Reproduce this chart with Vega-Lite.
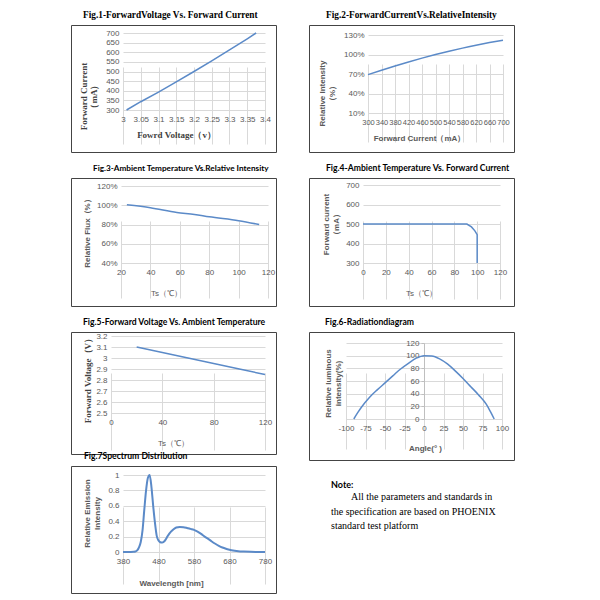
{
  "$schema": "https://vega.github.io/schema/vega-lite/v6.json",
  "padding": {"left": 70, "top": 10, "right": 5, "bottom": 5},
  "background": "white",
  "spacing": 31,
  "config": {
    "font": "Liberation Sans",
    "view": {"stroke": "#444444", "strokeWidth": 1},
    "axis": {"domain": false, "ticks": false, "grid": true, "gridColor": "#d9d9d9", "gridWidth": 1, "labelColor": "#595959", "labelFont": "Liberation Sans", "labelFontSize": 8, "labelPadding": 3, "labelFlush": false, "labelOverlap": false, "titleColor": "#595959", "titleFont": "Liberation Sans", "titleFontSize": 8, "titleFontWeight": "bold", "titleAlign": "center"},
    "axisX": {"labelPadding": 5},
    "axisY": {"labelPadding": 4},
    "line": {"color": "#5B8AC8", "strokeWidth": 1.5},
    "title": {"anchor": "start", "frame": "group", "color": "#000000", "fontWeight": "bold", "fontSize": 8.6, "font": "Lato", "offset": 5}
  },
  "datasets": {
    "fig1": [{"v": 3.01, "i": 300}, {"v": 3.05, "i": 343}, {"v": 3.1, "i": 393}, {"v": 3.15, "i": 446}, {"v": 3.2, "i": 500}, {"v": 3.25, "i": 555}, {"v": 3.3, "i": 612}, {"v": 3.35, "i": 670}, {"v": 3.375, "i": 700}],
    "fig2": [{"i": 300, "r": 69}, {"i": 340, "r": 75.9}, {"i": 380, "r": 82.4}, {"i": 420, "r": 88.6}, {"i": 460, "r": 94.4}, {"i": 500, "r": 99.9}, {"i": 540, "r": 105}, {"i": 580, "r": 109.8}, {"i": 620, "r": 114.2}, {"i": 660, "r": 118.3}, {"i": 700, "r": 122}],
    "fig3": [{"t": 24, "r": 100.5}, {"t": 40, "r": 97.5}, {"t": 58, "r": 92.5}, {"t": 70, "r": 90.5}, {"t": 80, "r": 88}, {"t": 100, "r": 84}, {"t": 114, "r": 80}],
    "fig4": [{"t": 0, "i": 500}, {"t": 91, "i": 500}, {"t": 95, "i": 485}, {"t": 98, "i": 465}, {"t": 100, "i": 445}, {"t": 100, "i": 300}],
    "fig5": [{"t": 20, "v": 3.1}, {"t": 40, "v": 3.05}, {"t": 60, "v": 3.0}, {"t": 80, "v": 2.95}, {"t": 100, "v": 2.9}, {"t": 120, "v": 2.85}],
    "fig6": [{"a": -90, "r": 0}, {"a": -85, "r": 10}, {"a": -80, "r": 19}, {"a": -70, "r": 34}, {"a": -60, "r": 46}, {"a": -50, "r": 57}, {"a": -40, "r": 68}, {"a": -30, "r": 79}, {"a": -20, "r": 88}, {"a": -10, "r": 96}, {"a": 0, "r": 100}, {"a": 10, "r": 99.5}, {"a": 20, "r": 95}, {"a": 30, "r": 87}, {"a": 40, "r": 76}, {"a": 50, "r": 64}, {"a": 60, "r": 51}, {"a": 70, "r": 38}, {"a": 80, "r": 23}, {"a": 85, "r": 12}, {"a": 90, "r": 0}],
    "fig7": [{"w": 380, "e": 0}, {"w": 390, "e": 0}, {"w": 400, "e": 0.001}, {"w": 410, "e": 0.003}, {"w": 415, "e": 0.006}, {"w": 420, "e": 0.02}, {"w": 425, "e": 0.06}, {"w": 430, "e": 0.13}, {"w": 435, "e": 0.28}, {"w": 440, "e": 0.55}, {"w": 445, "e": 0.8}, {"w": 450, "e": 0.96}, {"w": 455, "e": 1.0}, {"w": 460, "e": 0.85}, {"w": 465, "e": 0.6}, {"w": 470, "e": 0.38}, {"w": 475, "e": 0.21}, {"w": 480, "e": 0.15}, {"w": 485, "e": 0.127}, {"w": 490, "e": 0.122}, {"w": 495, "e": 0.132}, {"w": 500, "e": 0.16}, {"w": 505, "e": 0.2}, {"w": 510, "e": 0.235}, {"w": 520, "e": 0.285}, {"w": 530, "e": 0.318}, {"w": 540, "e": 0.326}, {"w": 550, "e": 0.322}, {"w": 560, "e": 0.312}, {"w": 570, "e": 0.3}, {"w": 580, "e": 0.288}, {"w": 590, "e": 0.265}, {"w": 600, "e": 0.235}, {"w": 610, "e": 0.2}, {"w": 620, "e": 0.17}, {"w": 630, "e": 0.137}, {"w": 640, "e": 0.107}, {"w": 650, "e": 0.08}, {"w": 660, "e": 0.058}, {"w": 670, "e": 0.042}, {"w": 680, "e": 0.03}, {"w": 690, "e": 0.02}, {"w": 700, "e": 0.013}, {"w": 710, "e": 0.008}, {"w": 720, "e": 0.005}, {"w": 740, "e": 0.002}, {"w": 760, "e": 0.001}, {"w": 780, "e": 0}]
  },
  "hconcat": [
    {
      "bounds": "flush",
      "spacing": 12,
      "vconcat": [
        {
          "width": 205, "height": 127,
          "title": {"text": "Fig.1-ForwardVoltage Vs. Forward Current", "font": "Liberation Serif", "fontSize": 9.3, "dx": 12},
          "data": {"name": "fig1"},
          "mark": {"type": "line"},
          "encoding": {
            "x": {"field": "v", "type": "quantitative", "scale": {"domain": [3, 3.4], "range": [52, 194], "nice": false, "zero": false},
              "axis": {"values": [3, 3.05, 3.1, 3.15, 3.2, 3.25, 3.3, 3.35, 3.4], "format": "~g", "offset": -42, "title": "Fowrd Voltage（v）", "titleFont": "Liberation Serif", "titleFontSize": 9, "titleColor": "#404040", "titleX": 105, "titleY": 24, "titleBaseline": "middle"}},
            "y": {"field": "i", "type": "quantitative", "scale": {"domain": [300, 700], "range": [85, 8], "nice": false, "zero": false},
              "axis": {"values": [300, 350, 400, 450, 500, 550, 600, 650, 700], "offset": -52, "title": ["Forward Current", "（mA）"], "titleFont": "Liberation Serif", "titleFontSize": 9, "titleColor": "#404040", "titleX": -44, "titleY": 71, "titleBaseline": "top", "titleAngle": -90, "titleLineHeight": 10}}
          }
        },
        {"width": 205, "height": 2, "data": {"values": []}, "mark": "point", "view": {"stroke": null}},
        {
          "width": 205, "height": 128,
          "title": {"text": "Fig.3-Ambient Temperature Vs.Relative Intensity", "fontSize": 8.2, "dx": 22},
          "data": {"name": "fig3"},
          "mark": {"type": "line", "interpolate": "monotone"},
          "encoding": {
            "x": {"field": "t", "type": "quantitative", "scale": {"domain": [20, 120], "range": [50, 197], "nice": false, "zero": false},
              "axis": {"values": [20, 40, 60, 80, 100, 120], "offset": -43, "title": "Ts（℃）", "titleFontWeight": "normal", "titleX": 95, "titleY": 30, "titleBaseline": "middle"}},
            "y": {"field": "r", "type": "quantitative", "scale": {"domain": [40, 120], "range": [85, 8], "nice": false, "zero": false},
              "axis": {"values": [40, 60, 80, 100, 120], "labelExpr": "datum.value + '%'", "offset": -50, "title": "Relative Flux（%）", "titleX": -38, "titleY": 53, "titleBaseline": "top", "titleAngle": -90}}
          }
        },
        {"width": 205, "height": 2, "data": {"values": []}, "mark": "point", "view": {"stroke": null}},
        {
          "width": 205, "height": 122,
          "title": {"text": "Fig.5-Forward Voltage Vs. Ambient Temperature", "dx": 12},
          "data": {"name": "fig5"},
          "mark": {"type": "line"},
          "encoding": {
            "x": {"field": "t", "type": "quantitative", "scale": {"domain": [0, 120], "range": [40, 194], "nice": false, "zero": false},
              "axis": {"values": [0, 40, 80, 120], "offset": -41, "title": "Ts（℃）", "titleFontWeight": "normal", "titleX": 102, "titleY": 30, "titleBaseline": "middle"}},
            "y": {"field": "v", "type": "quantitative", "scale": {"domain": [2.5, 3.2], "range": [81, 4], "nice": false, "zero": false},
              "axis": {"values": [2.5, 2.6, 2.7, 2.8, 2.9, 3, 3.1, 3.2], "format": "~g", "offset": -40, "title": "Forward Voltage（V）", "titleFont": "Liberation Serif", "titleFontSize": 9, "titleColor": "#404040", "titleX": -28, "titleY": 46, "titleBaseline": "top", "titleAngle": -90}}
          }
        },
        {
          "width": 205, "height": 127,
          "title": {"text": "Fig.7Spectrum Distribution", "dx": 13},
          "data": {"name": "fig7"},
          "mark": {"type": "line", "interpolate": "monotone", "strokeWidth": 2},
          "encoding": {
            "x": {"field": "w", "type": "quantitative", "scale": {"domain": [380, 780], "range": [52, 194], "nice": false, "zero": false},
              "axis": {"values": [380, 480, 580, 680, 780], "offset": -41, "title": "Wavelength [nm]", "titleX": 100, "titleY": 31, "titleBaseline": "middle"}},
            "y": {"field": "e", "type": "quantitative", "scale": {"domain": [0, 1], "range": [86, 9], "nice": false, "zero": false},
              "axis": {"values": [0, 0.2, 0.4, 0.6, 0.8, 1], "format": "~g", "offset": -52, "title": ["Relative Emission", "Intensity"], "titleX": -40, "titleY": 47, "titleBaseline": "top", "titleAngle": -90, "titleLineHeight": 10}}
          }
        }
      ]
    },
    {
      "bounds": "flush",
      "spacing": 6,
      "vconcat": [
        {
          "width": 205, "height": 127,
          "title": {"text": "Fig.2-ForwardCurrentVs.RelativeIntensity", "font": "Liberation Serif", "fontSize": 9.3, "dx": 17},
          "data": {"name": "fig2"},
          "mark": {"type": "line", "interpolate": "monotone"},
          "encoding": {
            "x": {"field": "i", "type": "quantitative", "scale": {"domain": [300, 700], "range": [59, 194], "nice": false, "zero": false},
              "axis": {"values": [300, 340, 380, 420, 460, 500, 540, 580, 620, 660, 700], "labelFontSize": 7.5, "offset": -39, "title": "Forward Current（mA）", "titleX": 110, "titleY": 25, "titleBaseline": "middle"}},
            "y": {"field": "r", "type": "quantitative", "scale": {"domain": [10, 130], "range": [88, 10], "nice": false, "zero": false},
              "axis": {"values": [10, 40, 70, 100, 130], "labelExpr": "datum.value + '%'", "offset": -59, "title": ["Relative Intensity", "（%）"], "titleX": -50, "titleY": 68, "titleBaseline": "top", "titleAngle": -90, "titleLineHeight": 10}}
          }
        },
        {"width": 205, "height": 14, "data": {"values": []}, "mark": "point", "view": {"stroke": null}},
        {
          "width": 205, "height": 128,
          "title": {"text": "Fig.4-Ambient Temperature Vs. Forward Current", "dx": 17},
          "data": {"name": "fig4"},
          "mark": {"type": "line"},
          "encoding": {
            "x": {"field": "t", "type": "quantitative", "scale": {"domain": [0, 120], "range": [54, 191], "nice": false, "zero": false},
              "axis": {"values": [0, 20, 40, 60, 80, 100, 120], "offset": -43, "title": "Ts（℃）", "titleFontWeight": "normal", "titleX": 112, "titleY": 30, "titleBaseline": "middle"}},
            "y": {"field": "i", "type": "quantitative", "scale": {"domain": [300, 700], "range": [85, 7], "nice": false, "zero": false},
              "axis": {"values": [300, 400, 500, 600, 700], "offset": -54, "title": ["Forward current", "（mA）"], "titleX": -41, "titleY": 46, "titleBaseline": "top", "titleAngle": -90, "titleLineHeight": 10}}
          }
        },
        {"width": 205, "height": 14, "data": {"values": []}, "mark": "point", "view": {"stroke": null}},
        {
          "width": 205, "height": 128,
          "title": {"text": "Fig.6-Radiationdiagram", "dx": 16},
          "data": {"name": "fig6"},
          "mark": {"type": "line", "interpolate": "monotone"},
          "encoding": {
            "x": {"field": "a", "type": "quantitative", "scale": {"domain": [-100, 100], "range": [37, 193], "nice": false, "zero": false},
              "axis": {"values": [-100, -75, -50, -25, 0, 25, 50, 75, 100], "labelExpr": "replace(datum.label, '\u2212', '-')", "offset": -41, "title": "Angle(° )", "titleX": 116, "titleY": 29, "titleBaseline": "middle"}},
            "y": {"field": "r", "type": "quantitative", "scale": {"domain": [0, 120], "range": [87, 11], "nice": false, "zero": false},
              "axis": {"values": [0, 20, 40, 60, 80, 100, 120], "offset": -115, "domain": true, "domainColor": "#bfbfbf", "ticks": true, "tickSize": 3, "tickColor": "#bfbfbf", "labelPadding": 2, "title": ["Relative luminous", "intensity(%)"], "titleX": -100, "titleY": 51, "titleBaseline": "top", "titleAngle": -90, "titleLineHeight": 10}}
          }
        },
        {
          "width": 205, "height": 127,
          "view": {"stroke": null},
          "title": {"text": "Note:", "subtitle": ["\u200b\u00a0\u00a0\u00a0\u00a0\u00a0\u00a0\u00a0\u00a0All the parameters and standards in", "the specification are based on PHOENIX", "standard test platform"], "dx": 22, "offset": -65, "fontSize": 9, "subtitleFont": "Liberation Serif", "subtitleFontSize": 10, "subtitleColor": "#000000", "subtitleLineHeight": 14.5, "subtitlePadding": 2},
          "data": {"values": []},
          "mark": "point"
        }
      ]
    }
  ]
}
